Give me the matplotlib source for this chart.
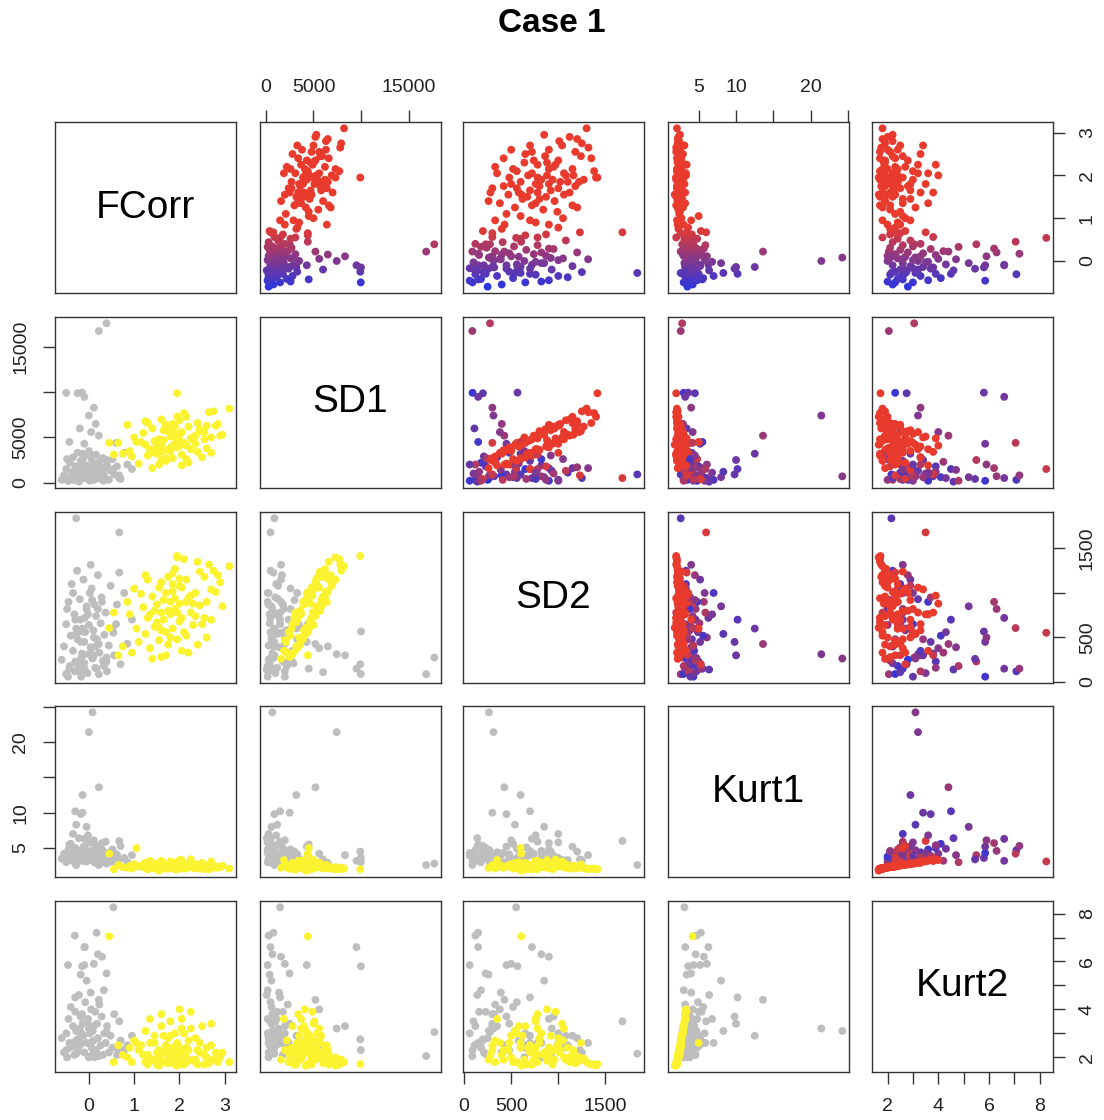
import numpy as np
import matplotlib.pyplot as plt
from matplotlib.colors import to_rgb

plt.rcParams['font.family'] = ['Liberation Sans', 'DejaVu Sans']

# ---- group 0 (grey below the diagonal) ----
fcorr_0 = [0.22, 0.39, -0.28, 0.67, 0.00, 0.08, 0.22, -0.14, -0.50, -0.25,
           -0.15, -0.10, 0.11, -0.43, 0.60, 0.05, -0.20, 0.15, -0.30, -0.18,
           -0.14, -0.05, -0.28, -0.35, 0.54, -0.31, 0.17, -0.09, -0.46, -0.10,
           0.11, 0.20, 0.29, 0.39, -0.18,
           -0.60, -0.55, -0.50, -0.45, -0.42, -0.40, -0.38, -0.35, -0.32, -0.30,
           -0.28, -0.25, -0.22, -0.20, -0.18, -0.15, -0.12, -0.10, -0.08, -0.05,
           -0.03, 0.00, 0.02, 0.04, 0.06, 0.08, 0.10, 0.12, 0.14, 0.16,
           0.18, 0.20, 0.23, 0.26, 0.28, 0.31, 0.34, 0.37, 0.40, 0.44,
           0.48, 0.52, 0.56, 0.62, 0.70, 0.78, 0.85, 0.95, -0.48, -0.26,
           -0.02, 0.33, 0.07, -0.17, 0.04, 0.67]
sd1_0 = [16800, 17650, 900, 500, 7430, 690, 5200, 3200, 9950, 9900,
         9970, 9500, 8300, 4500, 4400, 5600, 6000, 6500, 1500, 900,
         2500, 600, 1200, 300, 1500, 300, 800, 500, 200, 4300,
         2000, 700, 1600, 2500, 400,
         300, 800, 1500, 200, 2200, 600, 1100, 2800, 400, 1800,
         900, 3300, 100, 1300, 2400, 700, 1600, 2900, 500, 1900,
         1000, 3500, 200, 1400, 2600, 800, 2100, 300, 1200, 3100,
         600, 1700, 2300, 400, 1000, 2700, 700, 1500, 2000, 300,
         1300, 2600, 900, 1800, 400, 3300, 2000, 1500, 2600, 500,
         1100, 200, 3000, 2000, 1600, 800]
sd2_0 = [88, 275, 1838, 1680, 312, 264, 427, 600, 90, 200,
         567, 150, 300, 150, 650, 380, 110, 400, 700, 450,
         300, 850, 540, 1000, 553, 120, 150, 720, 60, 450,
         500, 820, 900, 230, 260,
         250, 400, 650, 900, 180, 520, 1100, 350, 760, 230,
         600, 480, 140, 930, 700, 320, 1150, 210, 560, 820,
         100, 640, 1000, 390, 1050, 270, 580, 870, 160, 740,
         480, 1200, 330, 660, 950, 240, 530, 780, 120, 410,
         1080, 600, 300, 870, 200, 1000, 430, 700, 820, 1250,
         760, 180, 920, 60, 1316, 1229]
kurt1_0 = [2.6, 2.8, 2.6, 6.0, 21.4, 24.2, 13.6, 12.5, 3.0, 4.5,
           3.6, 3.2, 4.0, 5.5, 3.9, 4.2, 3.4, 2.9, 10.2, 9.8,
           10.0, 8.0, 8.3, 7.0, 3.1, 4.7, 5.3, 6.3, 4.3, 5.2,
           6.1, 4.6, 5.7, 4.0, 3.4,
           3.5, 4.2, 3.1, 4.8, 3.9, 5.6, 3.3, 4.4, 3.0, 5.0,
           3.7, 4.1, 6.4, 3.4, 4.6, 3.2, 5.2, 3.6, 4.9, 3.1,
           4.3, 3.5, 5.8, 4.0, 3.3, 4.7, 3.8, 3.0, 5.4, 4.2,
           3.6, 4.5, 3.2, 5.1, 3.9, 4.6, 3.4, 5.9, 3.7, 4.3,
           3.1, 4.8, 3.5, 4.1, 5.3, 3.6, 3.0, 4.0, 3.8, 3.3,
           6.8, 3.0, 4.5, 3.9, 4.0, 3.4]
kurt2_0 = [2.05, 3.05, 2.15, 3.5, 3.2, 3.1, 4.4, 2.9, 2.3, 2.75,
           5.8, 6.6, 3.3, 2.6, 2.4, 4.0, 2.5, 2.2, 4.5, 3.7,
           3.4, 5.2, 3.1, 2.6, 8.26, 7.08, 7.2, 6.6, 5.85, 5.85,
           5.9, 6.3, 6.2, 5.5, 5.45,
           2.8, 2.2, 3.0, 3.6, 2.4, 4.1, 2.5, 3.3, 2.1, 3.9,
           2.7, 2.3, 4.6, 3.2, 2.6, 3.8, 2.9, 2.2, 4.3, 2.6,
           3.5, 2.0, 3.0, 4.7, 2.4, 3.1, 2.7, 2.0, 3.9, 2.3,
           3.4, 2.8, 4.2, 2.5, 3.7, 2.1, 3.0, 2.6, 3.3, 2.2,
           2.9, 2.4, 3.8, 2.1, 2.7, 2.3, 2.5, 2.9, 2.0, 2.2,
           3.6, 4.8, 2.1, 3.0, 2.6, 2.3]

# ---- group 1 (yellow below the diagonal) ----
fcorr_1 = [1.95, 3.10, 2.90, 2.75, 2.60, 2.55, 2.70, 2.45, 2.40, 2.35,
           2.30, 2.25, 2.20, 2.15, 2.10, 2.05, 2.00, 2.00, 1.95, 1.90,
           1.90, 1.85, 1.85, 1.80, 1.80, 1.75, 1.75, 1.70, 1.70, 1.65,
           1.60, 1.60, 1.55, 1.50, 1.45, 1.40, 1.35, 1.30, 1.25, 1.20,
           1.10, 1.05, 1.00, 0.95, 0.90, 0.85, 0.75, 0.65, 0.55, 0.45,
           2.50, 2.80, 2.65, 2.85, 2.95, 2.10, 1.95, 2.05, 1.70, 1.85,
           2.25, 2.35, 1.55, 1.60, 2.15, 1.45, 1.30, 2.45, 2.00, 1.80,
           1.90, 2.60, 2.20, 1.75, 1.40, 1.15, 2.05, 1.65, 2.30, 1.95,
           2.40, 2.70, 1.50, 1.85, 2.15, 1.25, 2.55, 1.60, 2.00, 1.35,
           1.55]
sd1_1 = [9900, 8200, 5200, 7900, 6300, 5600, 3300, 5900, 6600, 4300,
         5000, 3700, 6200, 7300, 4400, 3100, 4100, 6900, 3900, 5400,
         4300, 2700, 5600, 5100, 3900, 3600, 5700, 2400, 6400, 4700,
         3400, 7000, 2000, 4000, 4600, 6000, 3300, 3000, 4200, 5500,
         2100, 4500, 5000, 2900, 3500, 6400, 3200, 4400, 3100, 4400,
         2800, 6300, 7800, 6500, 5300, 7700, 7300, 1900, 2700, 5300,
         4900, 5200, 4800, 4000, 2600, 3600, 6600, 5700, 4600, 3500,
         6200, 3800, 2200, 6000, 1600, 4500, 5600, 5800, 4700, 4900,
         3400, 5000, 3200, 6500, 4100, 6800, 4800, 2500, 5300, 3700,
         4200]
sd2_1 = [1415, 1300, 1120, 1250, 900, 1180, 700, 860, 1350, 1000,
         640, 780, 950, 1150, 560, 720, 880, 1080, 480, 820,
         940, 600, 1220, 760, 900, 420, 800, 560, 1000, 700,
         780, 1120, 470, 870, 620, 960, 380, 720, 540, 840,
         450, 600, 1050, 330, 760, 900, 400, 300, 780, 606,
         650, 1010, 1320, 1200, 850, 1380, 1400, 350, 300, 1100,
         970, 740, 1060, 580, 520, 800, 1150, 1240, 680, 500,
         1270, 500, 330, 1180, 260, 990, 1060, 920, 880, 780,
         420, 1040, 670, 1020, 900, 1200, 720, 280, 1160, 760,
         610]
kurt1_1 = [2.0, 2.1, 2.3, 2.2, 2.5, 2.4, 2.6, 2.3, 2.1, 2.7,
           2.2, 3.0, 2.5, 2.3, 2.8, 2.4, 3.3, 2.2, 2.6, 2.9,
           2.0, 2.5, 2.3, 3.1, 2.4, 2.2, 2.7, 2.1, 2.6, 2.3,
           3.2, 2.1, 2.5, 2.4, 2.8, 2.2, 2.6, 2.0, 2.9, 2.3,
           2.4, 5.0, 2.7, 2.1, 2.5, 2.2, 2.3, 2.6, 2.0, 4.2,
           2.9, 2.4, 2.0, 2.2, 2.5, 2.1, 2.0, 3.3, 2.4, 2.6,
           3.4, 2.2, 2.3, 3.0, 2.1, 2.6, 2.4, 2.7, 2.5, 2.7,
           2.2, 2.3, 2.6, 2.1, 2.2, 2.5, 2.9, 2.8, 2.2, 2.3,
           2.4, 3.1, 2.0, 2.4, 2.6, 2.2, 2.0, 2.3, 2.5, 3.2,
           1.8]
kurt2_1 = [1.72, 1.8, 2.0, 1.9, 2.4, 2.1, 2.5, 2.2, 1.7, 2.8,
           1.9, 3.2, 2.3, 2.0, 3.0, 2.2, 4.0, 1.9, 2.6, 3.0,
           1.7, 2.4, 2.0, 3.5, 2.1, 1.9, 2.8, 1.8, 2.5, 2.2,
           3.8, 1.8, 2.3, 2.2, 2.9, 1.9, 2.6, 1.7, 3.1, 2.1,
           2.3, 2.6, 2.7, 1.8, 2.4, 2.0, 2.1, 2.5, 1.8, 7.05,
           3.3, 2.2, 1.75, 1.8, 2.2, 1.7, 1.65, 3.6, 2.3, 2.4,
           3.9, 1.9, 2.0, 3.3, 1.8, 2.6, 2.1, 2.6, 2.4, 2.9,
           1.95, 2.0, 2.7, 1.75, 1.9, 2.5, 3.2, 2.9, 1.85, 2.1,
           2.3, 3.4, 1.7, 2.3, 2.4, 1.8, 1.7, 2.1, 2.3, 3.6,
           1.65]

names = ["FCorr", "SD1", "SD2", "Kurt1", "Kurt2"]
tick_vals = [[0, 1, 2, 3],
             [0, 5000, 10000, 15000],
             [0, 500, 1000, 1500],
             [5, 10, 15, 20, 25],
             [2, 3, 4, 5, 6, 7, 8]]
tick_labs = [["0", "1", "2", "3"],
             ["0", "5000", "", "15000"],
             ["0", "500", "", "1500"],
             ["5", "10", "", "20", ""],
             ["2", "", "4", "", "6", "", "8"]]

data = [np.array(fcorr_0 + fcorr_1), np.array(sd1_0 + sd1_1),
        np.array(sd2_0 + sd2_1), np.array(kurt1_0 + kurt1_1),
        np.array(kurt2_0 + kurt2_1)]
grp = np.array([0] * len(fcorr_0) + [1] * len(fcorr_1))

# R-style axis range (4% extension)
lims = []
for v in data:
    r = v.max() - v.min()
    lims.append((v.min() - 0.04 * r, v.max() + 0.04 * r))

# colours: blue->red ramp on FCorr above, grey/yellow class below
blue = np.array(to_rgb("#2f36dc"))
red = np.array(to_rgb("#e83a2d"))
t = np.clip((data[0] + 0.6) / 1.4, 0, 1)[:, None]
upper_col = blue * (1 - t) + red * t
lower_col = np.where(grp[:, None] == 1,
                     np.array(to_rgb("#fbf230")), np.array(to_rgb("#bebebe")))

W, H = 1104, 1120
lefts = [55, 260, 463, 668, 872]
tops = [122, 317, 512, 706, 901]
pw, ph = 181, 171

fig = plt.figure(figsize=(W / 100, H / 100), dpi=100)
fig.text(0.5, 1 - 23 / H, "Case 1", ha="center", va="center",
         fontsize=24, fontweight="bold")

for i in range(5):
    for j in range(5):
        ax = fig.add_axes([lefts[j] / W, 1 - (tops[i] + ph) / H, pw / W, ph / H])
        ax.set_xlim(lims[j])
        ax.set_ylim(lims[i])
        for sp in ax.spines.values():
            sp.set_linewidth(1.0)
            sp.set_color("#333333")
        ax.tick_params(which="both", bottom=False, top=False, left=False,
                       right=False, labelbottom=False, labeltop=False,
                       labelleft=False, labelright=False)
        if i == j:
            ax.text(0.5, 0.5, names[i], transform=ax.transAxes, ha="center",
                    va="center", fontsize=28)
        elif j > i:
            ax.scatter(data[j], data[i], s=32, c=upper_col, linewidths=0)
        else:
            ax.scatter(data[j], data[i], s=32, c=lower_col, linewidths=0)

        ax.set_xticks(tick_vals[j], tick_labs[j])
        ax.set_yticks(tick_vals[i], tick_labs[i])
        kw = dict(direction="out", length=8.6, width=1.0, color="#333333",
                  labelsize=14, labelcolor="#222222", pad=10)
        if i == 0 and j in (1, 3):
            ax.tick_params(axis="x", top=True, labeltop=True, **kw)
        if i == 4 and j in (0, 2, 4):
            ax.tick_params(axis="x", bottom=True, labelbottom=True, **kw)
        if j == 0 and i in (1, 3):
            ax.tick_params(axis="y", left=True, labelleft=True,
                           labelrotation=90, **kw)
        if j == 4 and i in (0, 2, 4):
            ax.tick_params(axis="y", right=True, labelright=True,
                           labelrotation=90, **kw)
        for lab in ax.get_yticklabels():
            lab.set_verticalalignment("center")

fig.savefig("out.png", dpi=100)
